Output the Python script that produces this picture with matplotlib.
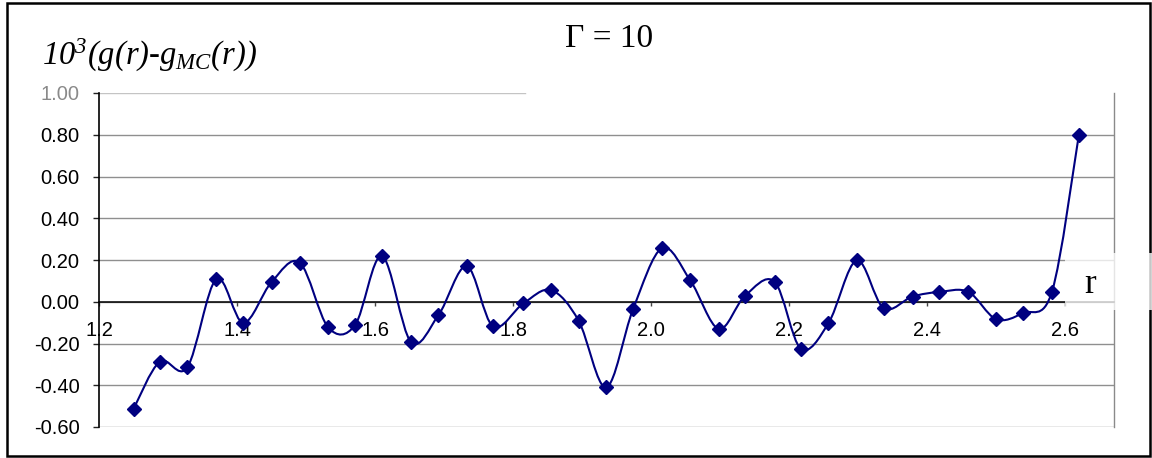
import numpy as np
import matplotlib
matplotlib.use("Agg")
import matplotlib.pyplot as plt
from matplotlib.patches import Rectangle
from matplotlib.path import Path

# ---- data ----
r = [1.250, 1.288, 1.328, 1.370, 1.409, 1.450, 1.491, 1.532, 1.571, 1.610,
     1.652, 1.692, 1.733, 1.771, 1.815, 1.855, 1.895, 1.935, 1.974, 2.016,
     2.057, 2.098, 2.136, 2.179, 2.217, 2.257, 2.298, 2.337, 2.379, 2.418,
     2.460, 2.500, 2.539, 2.581, 2.620]
dg = [-0.514, -0.287, -0.314, 0.109, -0.101, 0.094, 0.187, -0.122, -0.112, 0.219,
      -0.192, -0.064, 0.170, -0.118, -0.008, 0.056, -0.090, -0.410, -0.036, 0.257,
      0.102, -0.130, 0.027, 0.096, -0.224, -0.104, 0.198, -0.030, 0.025, 0.047,
      0.047, -0.083, -0.054, 0.047, 0.798]
yticks = [-0.60, -0.40, -0.20, 0.00, 0.20, 0.40, 0.60, 0.80, 1.00]
xticks = [1.2, 1.4, 1.6, 1.8, 2.0, 2.2, 2.4, 2.6]
title = "Γ = 10"
ylabel = r"$10^{3}(g(r)\text{-}g_{MC}(r))$"
xlabel = "r"

plt.rcParams["axes.unicode_minus"] = False
plt.rcParams["mathtext.fontset"] = "custom"
plt.rcParams["mathtext.rm"] = "Liberation Serif:italic"
plt.rcParams["mathtext.it"] = "Liberation Serif:italic"

W, H = 1152, 458
fig = plt.figure(figsize=(W / 100, H / 100), dpi=100)
L, R, T, B = 99, 1114, 93, 427
ax = fig.add_axes([L / W, 1 - B / H, (R - L) / W, (B - T) / H])
ax.set_xlim(1.2, 2.671)
ax.set_ylim(-0.6, 1.0)

ax.spines["top"].set_visible(False)
ax.spines["left"].set_color("black")
ax.spines["left"].set_linewidth(1.2)
ax.spines["right"].set_color("#8a8a8a")
ax.spines["right"].set_linewidth(1)
ax.spines["bottom"].set_position(("data", 0))
ax.spines["bottom"].set_color("black")
ax.spines["bottom"].set_linewidth(1.1)

ax.set_yticks(yticks)
ax.set_yticklabels([f"{v:.2f}" for v in yticks], family="Liberation Sans", fontsize=14.5)
ax.set_xticks(xticks)
ax.set_xticklabels([f"{v:.1f}" for v in xticks], family="Liberation Sans", fontsize=14.5)
ax.get_yticklabels()[-1].set_color("#8a8a8a")

ax.tick_params(axis="y", direction="out", length=4.5, width=1, color="#222222", pad=9.5)
ax.tick_params(axis="x", direction="out", length=3, width=1, color="#444444", pad=11)

ax.yaxis.grid(True, color="#8f8f8f", linewidth=1)
ax.set_axisbelow(True)
ax.yaxis.get_major_ticks()[-1].gridline.set_visible(False)
ax.axhline(1.0, xmin=0, xmax=(525 - L) / (R - L), color="#c4c4c4", lw=1, zorder=0.5)

# ---- smoothed line (Catmull-Rom style Bezier in display space) ----
pts = ax.transData.transform(np.column_stack([r, dg]))
n = len(pts)
verts = [pts[0]]
codes = [Path.MOVETO]
for i in range(n - 1):
    p0 = pts[i - 1] if i > 0 else pts[i]
    p1 = pts[i]
    p2 = pts[i + 1]
    p3 = pts[i + 2] if i + 2 < n else pts[i + 1]
    c1 = p1 + (p2 - p0) / 6.0
    c2 = p2 - (p3 - p1) / 6.0
    verts += [c1, c2, p2]
    codes += [Path.CURVE4] * 3
curve = Path(np.array(verts), codes)
tpts = np.vstack(curve.to_polygons(closed_only=False))
dpts = ax.transData.inverted().transform(tpts)
ax.plot(dpts[:, 0], dpts[:, 1], color="#000080", lw=1.5, zorder=3)
ax.plot(r, dg, linestyle="none", marker="D", markersize=7,
        color="#000080", zorder=4)

# ---- texts ----
fig.text(609 / W, 1 - 39 / H, title, family="Liberation Serif", fontsize=24,
         ha="center", va="center")
fig.text(42 / W, 1 - 65 / H, ylabel, fontsize=23.5, ha="left", va="baseline")

# semi-transparent label box around "r"
fig.add_artist(Rectangle((1065 / W, 1 - 310 / H), (W - 1065) / W, 57 / H,
                         transform=fig.transFigure, facecolor="white",
                         edgecolor="none", alpha=0.78, zorder=5))
fig.text(1090 / W, 1 - 293 / H, xlabel, family="Liberation Serif", fontsize=25,
         ha="center", va="baseline", zorder=6)

# outer frame
fig.add_artist(Rectangle((7 / W, 1 - 456 / H), (1150 - 7) / W, (456 - 3) / H,
                         transform=fig.transFigure, facecolor="none",
                         edgecolor="black", lw=1.8, zorder=4))

fig.savefig("out.png", dpi=100)
